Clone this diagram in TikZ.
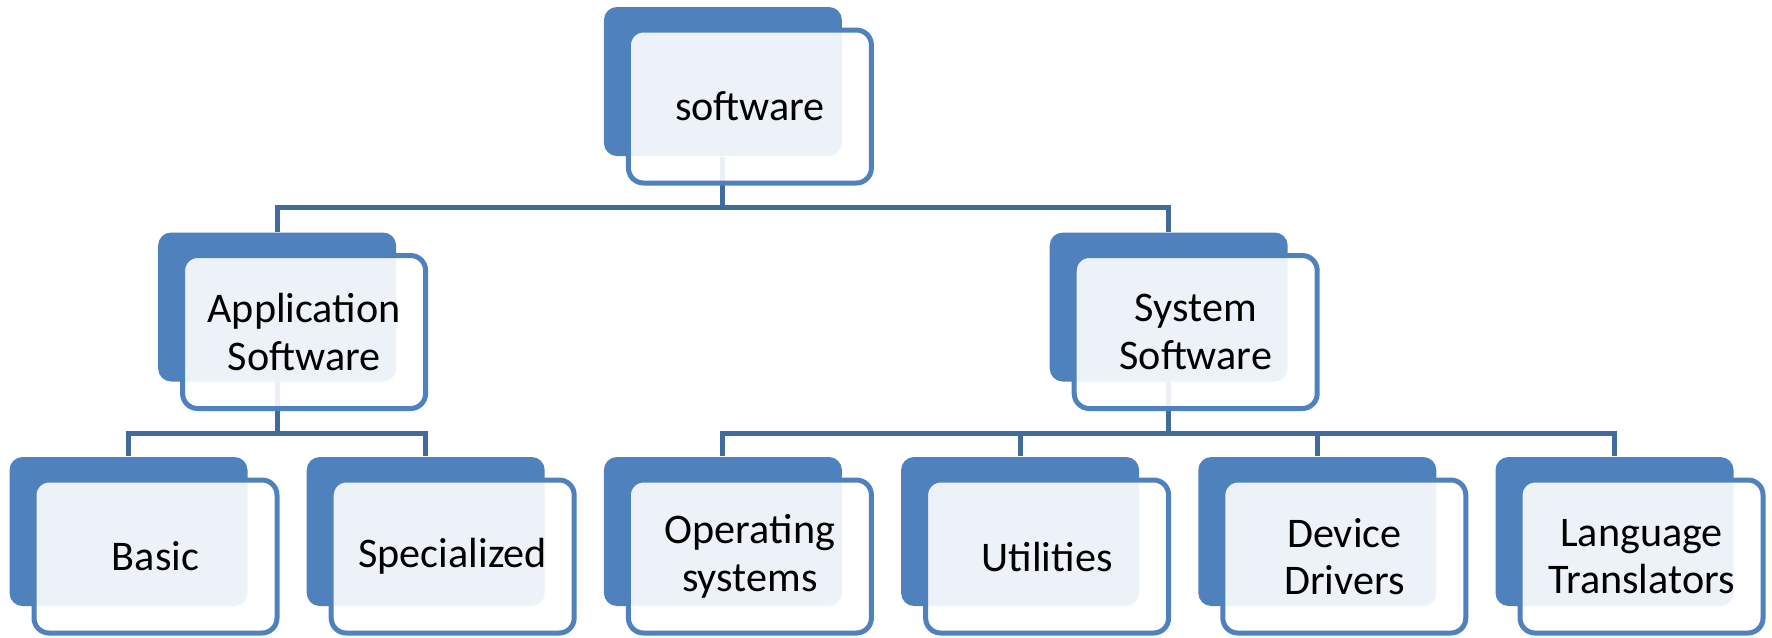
\documentclass[tikz,border=0pt]{standalone}
\usepackage{fontspec}
\setmainfont{Carlito}
\usepackage{tikz}
\usetikzlibrary{arrows.meta,positioning}
\definecolor{boxblue}{RGB}{79,129,189}
\definecolor{linkblue}{RGB}{65,107,157}

\begin{document}
\begin{tikzpicture}[
  x=0.1mm, y=-0.1mm,
  back/.style={fill=boxblue, rounded corners=1.3mm, minimum width=23.8mm,
    minimum height=14.9mm, inner sep=0pt},
  front/.style={draw=boxblue, line width=0.5mm, fill=white, fill opacity=0.9,
    text opacity=1, rounded corners=1.5mm, minimum width=24.3mm, minimum height=15.3mm,
    inner sep=0pt, align=center, font=\fontsize{12}{13.5}\selectfont,
    xshift=2.7mm, yshift=-2.5mm},
  link/.style={draw=linkblue, line width=0.5mm}
]
\useasboundingbox (0,0) rectangle (1772,637);

% back boxes
\node[back] (software) at (722.9,81.5) {};
\node[back] (appl) at (277.1,307) {};
\node[back] (sys) at (1168.7,307) {};
\node[back] (basic) at (128.5,531.5) {};
\node[back] (special) at (425.7,531.5) {};
\node[back] (opsys) at (722.9,531.5) {};
\node[back] (util) at (1020.1,531.5) {};
\node[back] (drivers) at (1317.3,531.5) {};
\node[back] (lang) at (1614.5,531.5) {};

% connectors
\draw[link] (software.south) -- ++(0,51) -| (appl.north);
\draw[link] (software.south) -- ++(0,51) -| (sys.north);
\draw[link] (appl.south) -- ++(0,51) -| (basic.north);
\draw[link] (appl.south) -- ++(0,51) -| (special.north);
\draw[link] (sys.south) -- ++(0,51) -| (opsys.north);
\draw[link] (sys.south) -- ++(0,51) -| (util.north);
\draw[link] (sys.south) -- ++(0,51) -| (drivers.north);
\draw[link] (sys.south) -- ++(0,51) -| (lang.north);

% front boxes
\node[front] (softwareF) at (software) {software};
\node[front] (applF) at (appl) {Application\\Software};
\node[front] (sysF) at (sys) {System\\Software};
\node[front] (basicF) at (basic) {Basic};
\node[front] (specialF) at (special) {Specialized};
\node[front] (opsysF) at (opsys) {Operating\\systems};
\node[front] (utilF) at (util) {Utilities};
\node[front] (driversF) at (drivers) {Device\\Drivers};
\node[front] (langF) at (lang) {Language\\Translators};
\end{tikzpicture}
\end{document}
